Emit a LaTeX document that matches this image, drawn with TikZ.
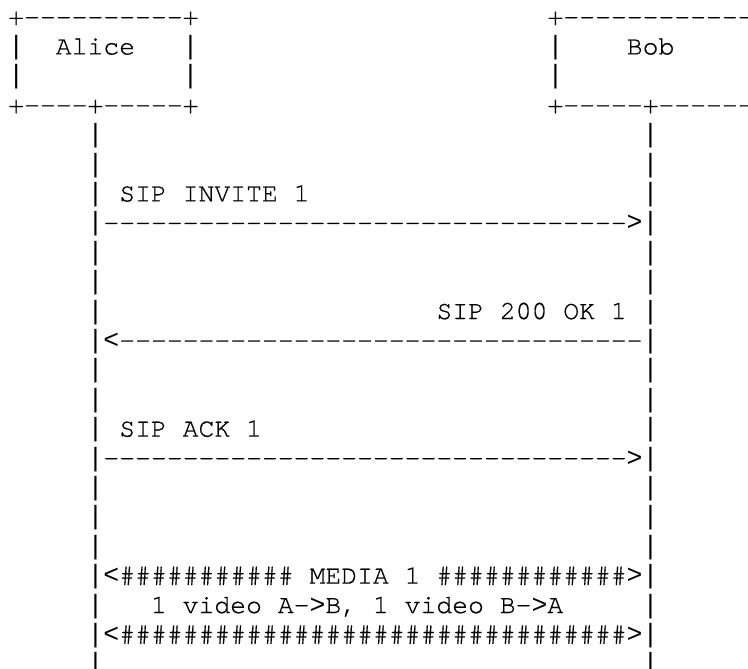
\documentclass[tikz,border=0pt]{standalone}
\usepackage{fontspec}
\setmonofont[FakeBold=0.6]{texgyrecursor-regular.otf}
\newfontfamily\barfont{Liberation Mono}
\ExplSyntaxOn
\NewDocumentCommand\rep{mm}{\prg_replicate:nn{#1}{#2}}
\ExplSyntaxOff
\newcommand\lt{{\barfont<}}
\newcommand\gt{{\barfont>}}
\tikzset{
  txt/.style={font=\ttfamily\fontsize{19.82pt}{22pt}\selectfont,inner sep=0pt,anchor=base west,text=black},
  bar/.style={txt,font=\barfont\fontsize{19.82pt}{22pt}\selectfont},
  msg/.style={txt},
}

\begin{document}
\begin{tikzpicture}[x=11.895pt,y=-22.05pt]
  \useasboundingbox (-6pt,18.75pt) rectangle (555pt,-482.25pt);
  \node[txt] (alice-top) at (0,0) {+\rep{10}{-}+};
  \node[txt] (bob-top) at (34,0) {+\rep{12}{-}};
  \node[bar] (alice-l1) at (0,1) {|};
  \node[txt] (alice) at (3,1) {Alice};
  \node[bar] (alice-r1) at (11,1) {|};
  \node[bar] (bob-l1) at (34,1) {|};
  \node[txt] (bob) at (39,1) {Bob};
  \node[bar] (alice-l2) at (0,2) {|};
  \node[bar] (alice-r2) at (11,2) {|};
  \node[bar] (bob-l2) at (34,2) {|};
  \node[txt] (alice-bot) at (0,3) {+\rep{4}{-}+\rep{5}{-}+};
  \node[txt] (bob-bot) at (34,3) {+\rep{5}{-}+\rep{6}{-}};
  \foreach \r in {4,...,22} {
    \node[bar] (alice-life-\r) at (5,\r) {|};
    \node[bar] (bob-life-\r) at (40,\r) {|};
  }
  \node[msg] (invite) at (7,6) {SIP INVITE 1};
  \node[msg] (invite-arrow) at (6,7) {\rep{33}{-}\gt};
  \node[msg] (ok) at (27,10) {SIP 200 OK 1};
  \node[msg] (ok-arrow) at (6,11) {\lt\rep{33}{-}};
  \node[msg] (ack) at (7,14) {SIP ACK 1};
  \node[msg] (ack-arrow) at (6,15) {\rep{33}{-}\gt};
  \node[msg] (media) at (6,19) {\lt\rep{11}{\#} MEDIA 1 \rep{12}{\#}\gt};
  \node[msg] (streams) at (9,20) {1 video A-\gt B, 1 video B-\gt A};
  \node[msg] (media-end) at (6,21) {\lt\rep{32}{\#}\gt};
\end{tikzpicture}
\end{document}
